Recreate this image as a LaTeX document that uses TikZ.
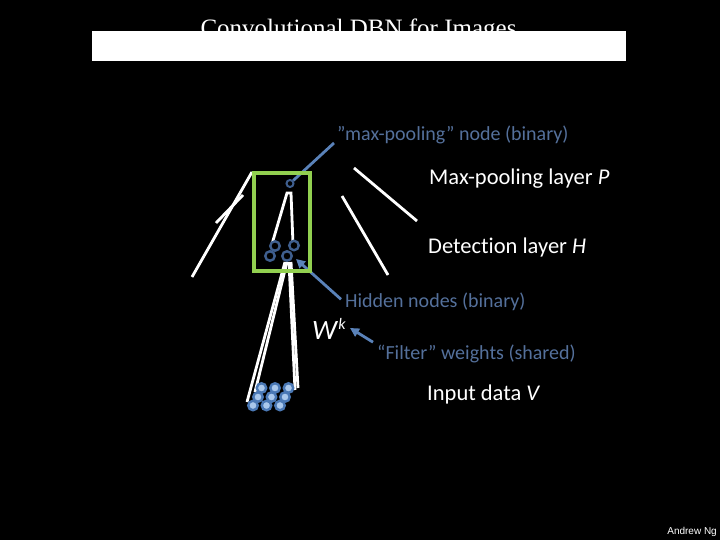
\documentclass[tikz,border=0pt]{standalone}
\usepackage{fontspec}
\setmainfont{Carlito}[Ligatures=NoCommon]
\newfontfamily\titlefont{Liberation Serif}
\newfontfamily\arialfont{Liberation Sans}
\usetikzlibrary{arrows.meta}
\definecolor{lblue}{RGB}{84,112,155}
\definecolor{ablue}{RGB}{90,130,185}
\definecolor{cring}{RGB}{63,95,143}
\definecolor{gbox}{RGB}{146,208,80}
\definecolor{infill}{RGB}{170,200,236}
\definecolor{inring}{RGB}{74,120,181}
\begin{document}
\begin{tikzpicture}[x=1pt,y=-1pt,
  wline/.style={white,line width=2.8pt},
  lbl/.style={inner sep=0pt,anchor=base west,text=white,font=\fontsize{22.5}{26}\selectfont},
  note/.style={inner sep=0pt,anchor=base west,text=lblue,font=\fontsize{20}{23}\selectfont},
  hnode/.style={circle,draw=cring,fill=black,line width=2.4pt,minimum size=9.5pt,inner sep=0pt},
  pnode/.style={hnode,minimum size=7pt,line width=2pt},
  vnode/.style={circle,draw=inring,fill=infill,line width=2.4pt,minimum size=9.5pt,inner sep=0pt},
  callout/.style={ablue,line width=2.8pt},
  arrowed/.style={-{Triangle[length=9pt,width=9pt]}}]
\fill[black] (0,0) rectangle (720,540);
\useasboundingbox (0,0) rectangle (720,540);

% title, partly covered by a white bar
\node[inner sep=0pt,anchor=base,text=white,font=\titlefont\fontsize{25}{28}\selectfont] (title) at (358.5,37) {Convolutional DBN for Images};
\fill[white] (92,31) rectangle (626,61);

% perspective edges of the layers
\draw[wline] (252,172) -- (192,277);
\draw[wline] (243,195) -- (216,223);
\draw[wline] (354,168) -- (417,221);
\draw[wline] (342,196) -- (388,275);

% pooling -> detection
\draw[wline] (272,244) -- (287,193) -- (291,193) -- (293,244);

% detection -> input receptive field
\draw[wline] (285,262) -- (247,402);
\draw[wline] (287,262) -- (255,392);
\draw[wline] (289,262) -- (295,390);
\draw[wline] (291,262) -- (298,388);

% input layer nodes
\node[vnode] (v1) at (261.5,388) {};
\node[vnode] (v2) at (275,388) {};
\node[vnode] (v3) at (288.5,388) {};
\node[vnode] (v4) at (258,397) {};
\node[vnode] (v5) at (271.5,397) {};
\node[vnode] (v6) at (285,397) {};
\node[vnode] (v7) at (253,405.5) {};
\node[vnode] (v8) at (266.5,405.5) {};
\node[vnode] (v9) at (280,405.5) {};

% detection nodes
\node[hnode] (d1) at (275,246) {};
\node[hnode] (d2) at (294,245.5) {};
\node[hnode] (d3) at (270,256) {};
\node[hnode] (d4) at (287,256) {};

% pooling node
\node[pnode] (p) at (290,183.5) {};

% labels
\node[note] (mp) at (337,141) {”max-pooling” node (binary)};
\node[lbl] (mpl) at (429,185) {Max-pooling layer \textit{P}};
\node[lbl] (det) at (428,254) {Detection layer \textit{H}};
\node[note] (hid) at (345,307) {Hidden nodes (binary)};
\node[inner sep=0pt,anchor=base west,text=white,font=\fontsize{28}{30}\selectfont] (w) at (312,339) {\textit{W}\raisebox{10pt}{\fontsize{16}{17}\selectfont\textit{k}}};
\node[note] (filt) at (377,359) {“Filter” weights (shared)};
\node[lbl] (inp) at (427,400) {Input data \textit{V}};
\node[inner sep=0pt,anchor=base east,text=white,font=\arialfont\fontsize{10}{12}\selectfont] (ng) at (717,534) {Andrew Ng};

% callouts
\coordinate (htip) at (296,259);
\coordinate (wtip) at (350,328);
\draw[callout] ([xshift=-3pt,yshift=-2pt]mp.base west) -- (p);
\draw[callout,arrowed] ([xshift=-4pt,yshift=2pt]hid.west) -- (htip);
\draw[callout,arrowed] ([xshift=-4pt,yshift=2pt]filt.north west) -- (wtip);

% green receptive box
\draw[gbox,line width=4pt] (254,173.5) rectangle (310,271);
\end{tikzpicture}
\end{document}
